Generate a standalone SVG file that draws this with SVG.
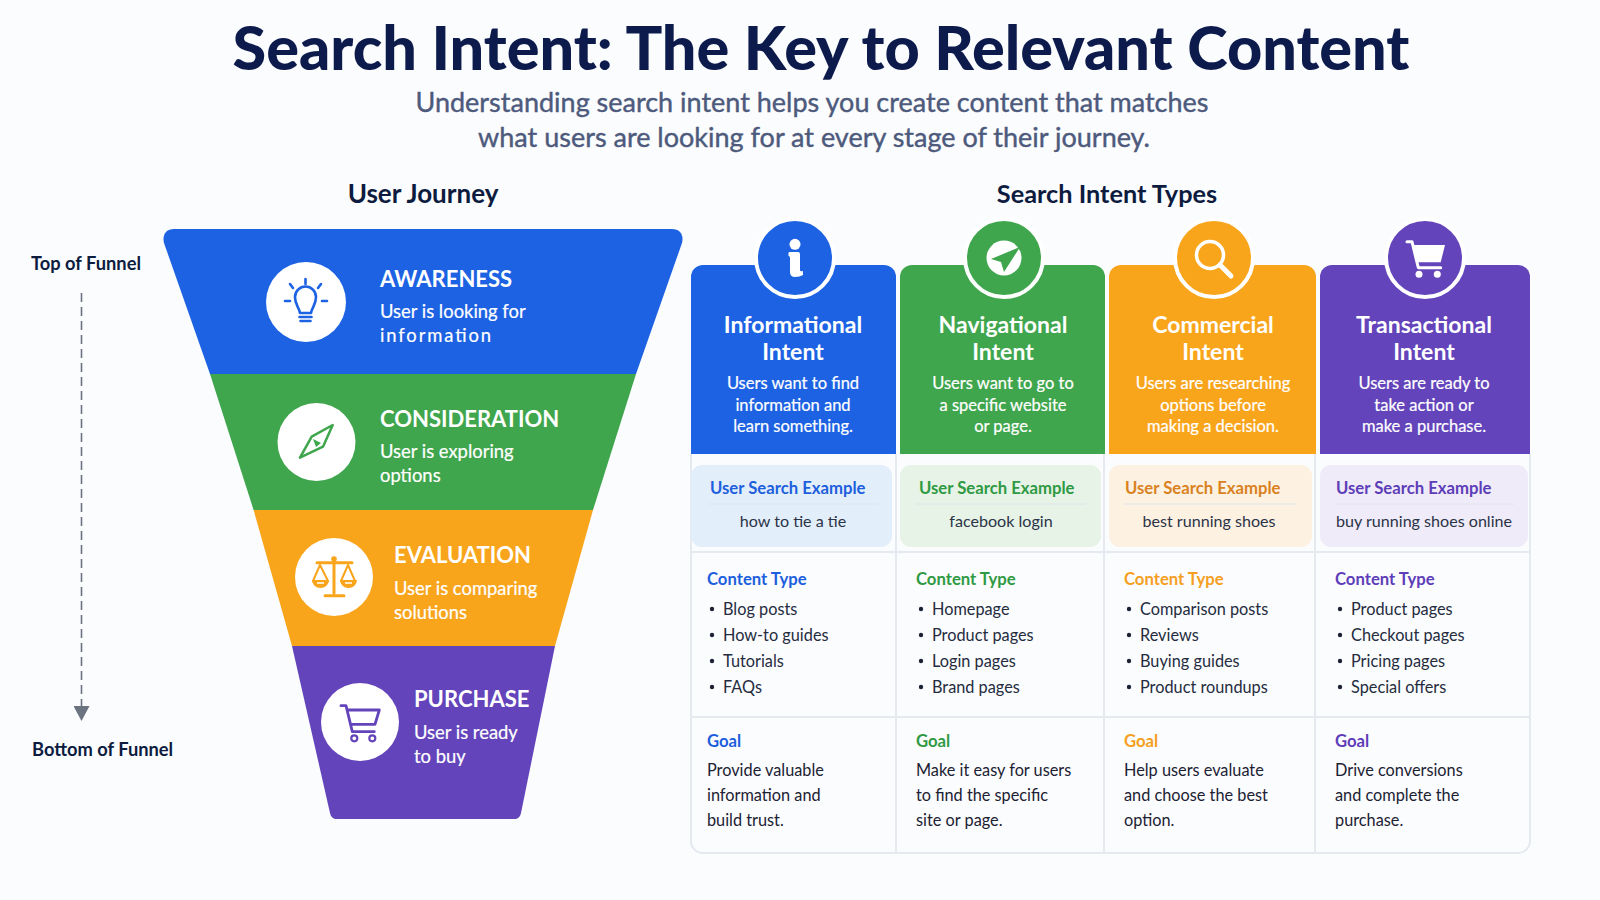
<svg xmlns="http://www.w3.org/2000/svg" width="1600" height="900" viewBox="0 0 1600 900">
<style>
text{font-family:"Lato","Noto Sans","Liberation Sans",sans-serif}
.title{font-size:61.200px;font-weight:900;fill:#0d1b4c;text-anchor:middle}
.sub{font-size:27px;font-weight:400;fill:#4d5a7c;stroke:#4d5a7c;stroke-width:.4;text-anchor:middle}
.sec{font-size:25.300px;font-weight:700;fill:#0d1b3e;text-anchor:middle}
.side{font-size:18.300px;font-weight:700;fill:#0d1b3e}
.fh{font-size:22px;font-weight:700;fill:#fff}
.fd{font-size:18.400px;font-weight:400;fill:#fff;stroke:#fff;stroke-width:.2}
.ch{font-size:23px;font-weight:700;fill:#fff;text-anchor:middle}
.cd{font-size:16.500px;font-weight:400;fill:#fff;stroke:#fff;stroke-width:.2;text-anchor:middle}
.lb{font-size:16.700px;font-weight:700}
.q{font-size:16.100px;fill:#2b3347;text-anchor:middle}
.li{font-size:16.300px;fill:#252c40}
.gt{font-size:16.300px;fill:#1c2233}
.grid{stroke:#e5e9f0;stroke-width:2;fill:none}
.hr{stroke:#dfe4ec;stroke-width:1}
.ring{stroke:#fff;stroke-width:4}
.blue{fill:#1c62e3}.green{fill:#3fa64d}.orange{fill:#f9a51c}.purple{fill:#6344bb}
.tblue{fill:#1d5fdc}.tgreen{fill:#2f9a43}.torange{fill:#f59f22}.tpurple{fill:#5e3db8}
.dot{fill:#1c2233}
</style>
<defs>
<marker id="arr" markerUnits="userSpaceOnUse" markerWidth="16" markerHeight="16" refX="0" refY="8" orient="auto"><path d="M0 0L15 8L0 16Z" fill="#6b7280"/></marker>
<g id="dots"><circle cx="0" cy="0" r="2.200" class="dot"/><circle cx="0" cy="26" r="2.200" class="dot"/><circle cx="0" cy="52" r="2.200" class="dot"/><circle cx="0" cy="78" r="2.200" class="dot"/></g>
</defs>
<rect width="1600" height="900" fill="#fbfcfe"/>
<text class="title" x="821" y="70">Search Intent: The Key to Relevant Content</text>
<text class="sub" x="812" y="112">Understanding search intent helps you create content that matches</text>
<text class="sub" x="814" y="147">what users are looking for at every stage of their journey.</text>
<text class="sec" x="423" y="203" style="font-size:26px">User Journey</text>
<text class="sec" x="1107" y="203">Search Intent Types</text>
<g id="connectors"><line x1="81.500" y1="293" x2="81.500" y2="706" stroke="#6b7280" stroke-width="1.600" stroke-dasharray="9 5" marker-end="url(#arr)"/></g>
<g id="side-labels"><text class="side" x="31" y="270">Top of Funnel</text><text class="side" x="32" y="756">Bottom of Funnel</text></g>

<g id="awareness">
<path class="blue" d="M174 229H672C680 229 684 235 682 243L636 374H210L164 243C162 235 166 229 174 229Z"/>
<circle cx="306" cy="302" r="40" fill="#fff"/>
<g fill="none" stroke="#1c62e3" stroke-width="2.600" stroke-linecap="round" stroke-linejoin="round"><path d="M300 313C299 307 295 305 295 297A10.500 10.500 0 0 1 316 297C316 305 312 307 311 313Z"/><path d="M299.500 317H311.500M300.500 321H310.500M305.500 279V284M290 284L293 288M321 284L318 288M285 301H290M322 301H327"/></g>
<text class="fh" x="380" y="287">AWARENESS</text>
<text class="fd" x="380" y="318">User is looking for</text>
<text class="fd" x="380" y="342" textLength="111">information</text>
</g>
<g id="consideration">
<path class="green" d="M210 374H636L593 510H253.600Z"/>
<circle cx="316.500" cy="442" r="39" fill="#fff"/>
<path d="M332.700 425L323 446.700L300 457.700L311.700 436.700Z" fill="#fff" stroke="#3fa64d" stroke-width="2.500" stroke-linejoin="round"/>
<path d="M313 439L321 443L316 447Z" fill="#3fa64d"/>
<text class="fh" x="380" y="427">CONSIDERATION</text>
<text class="fd" x="380" y="458">User is exploring</text>
<text class="fd" x="380" y="482">options</text>
</g>
<g id="evaluation">
<path class="orange" d="M253.600 510H593L555 646H292Z"/>
<circle cx="334" cy="577" r="39" fill="#fff"/>
<g fill="none" stroke="#f9a51c" stroke-width="2" stroke-linecap="round" stroke-linejoin="round"><path d="M320 565L313 581M320 565L328 581M348 565L341 581M348 565L355 581"/></g>
<path d="M334 558V593M317 562.700H352M325 595.700H344" fill="none" stroke="#f9a51c" stroke-width="3" stroke-linecap="round"/>
<path d="M312 580H329A8.500 8 0 0 1 312 580ZM340 580H357A8.500 8 0 0 1 340 580Z" fill="#f9a51c"/>
<path d="M317 583H324M345 583H352" stroke="#fff" stroke-width="1.500"/>
<circle cx="334" cy="559" r="2.800" fill="#f9a51c"/>
<text class="fh" x="394" y="563">EVALUATION</text>
<text class="fd" x="394" y="595">User is comparing</text>
<text class="fd" x="394" y="619">solutions</text>
</g>
<g id="purchase">
<path class="purple" d="M292 646H555L521 813C520 817 518 819 514 819H337C333 819 331 817 330 813Z"/>
<circle cx="360" cy="722" r="39" fill="#fff"/>
<g fill="none" stroke="#6344bb" stroke-width="2.800" stroke-linecap="round" stroke-linejoin="round"><path d="M341 705.700H346L352.300 731.700H374.300M348.300 710H379.300L375 724.300H351"/></g>
<circle cx="354.300" cy="738.300" r="3" fill="#fff" stroke="#6344bb" stroke-width="2.200"/><circle cx="372.300" cy="738.300" r="3" fill="#fff" stroke="#6344bb" stroke-width="2.200"/>
<text class="fh" x="414" y="707">PURCHASE</text>
<text class="fd" x="414" y="739">User is ready</text>
<text class="fd" x="414" y="763">to buy</text>
</g>

<g id="grid">
<path class="grid" d="M691 454V841A12 12 0 0 0 703 853H1518A12 12 0 0 0 1530 841V454"/>
<path class="grid" d="M896 454V853M1104 454V853M1315 454V853M691 552H1530M691 717H1530"/>
</g>

<g id="informational">
<path class="blue" d="M691 454V277A12 12 0 0 1 703 265H884A12 12 0 0 1 896 277V454Z"/>
<circle class="blue ring" cx="795" cy="258" r="39"/>
<circle cx="795" cy="244.300" r="5.500" fill="#fff"/>
<path d="M788.500 254Q788 252 790 252H798Q800 252 800 254V270Q800 272 803 271V275Q800 277 795 277Q790 277 790 272V258Q790 256 788.500 256Z" fill="#fff"/>
<text class="ch" x="793" y="333">Informational</text><text class="ch" x="793" y="360">Intent</text>
<text class="cd" x="793" y="389">Users want to find</text><text class="cd" x="793" y="411">information and</text><text class="cd" x="793" y="432">learn something.</text>
<rect x="691" y="465" width="201" height="82" rx="11" fill="#e3eefb"/>
<text class="lb tblue" x="710" y="494">User Search Example</text>
<line class="hr" x1="708" y1="504" x2="877" y2="504"/>
<text class="q" x="793" y="527">how to tie a tie</text>
<text class="lb tblue" x="707" y="585">Content Type</text>
<use href="#dots" x="712" y="609"/>
<text class="li" x="723" y="614.500">Blog posts</text><text class="li" x="723" y="640.500">How-to guides</text><text class="li" x="723" y="666.500">Tutorials</text><text class="li" x="723" y="692.500">FAQs</text>
<text class="lb tblue" x="707" y="747">Goal</text>
<text class="gt" x="707" y="776">Provide valuable</text><text class="gt" x="707" y="801">information and</text><text class="gt" x="707" y="826">build trust.</text>
</g>
<g id="navigational">
<path class="green" d="M900 454V277A12 12 0 0 1 912 265H1093A12 12 0 0 1 1105 277V454Z"/>
<circle class="green ring" cx="1004" cy="258" r="39"/>
<circle cx="1004" cy="258" r="17.500" fill="#fff"/>
<path d="M991 259L1020 247L1004 272L1001 262Z" class="green"/>
<text class="ch" x="1003" y="333">Navigational</text><text class="ch" x="1003" y="360">Intent</text>
<text class="cd" x="1003" y="389">Users want to go to</text><text class="cd" x="1003" y="411">a specific website</text><text class="cd" x="1003" y="432">or page.</text>
<rect x="900" y="465" width="201" height="82" rx="11" fill="#e6f3e6"/>
<text class="lb tgreen" x="919" y="494">User Search Example</text>
<line class="hr" x1="916" y1="504" x2="1086" y2="504"/>
<text class="q" x="1001" y="527">facebook login</text>
<text class="lb tgreen" x="916" y="585">Content Type</text>
<use href="#dots" x="921" y="609"/>
<text class="li" x="932" y="614.500">Homepage</text><text class="li" x="932" y="640.500">Product pages</text><text class="li" x="932" y="666.500">Login pages</text><text class="li" x="932" y="692.500">Brand pages</text>
<text class="lb tgreen" x="916" y="747">Goal</text>
<text class="gt" x="916" y="776">Make it easy for users</text><text class="gt" x="916" y="801">to find the specific</text><text class="gt" x="916" y="826">site or page.</text>
</g>
<g id="commercial">
<path class="orange" d="M1109 454V277A12 12 0 0 1 1121 265H1304A12 12 0 0 1 1316 277V454Z"/>
<circle class="orange ring" cx="1214" cy="258" r="39"/>
<circle cx="1210" cy="255" r="13.500" fill="none" stroke="#fff" stroke-width="3.500"/>
<line x1="1220" y1="265" x2="1231" y2="276" stroke="#fff" stroke-width="5" stroke-linecap="round"/>
<text class="ch" x="1213" y="333">Commercial</text><text class="ch" x="1213" y="360">Intent</text>
<text class="cd" x="1213" y="389">Users are researching</text><text class="cd" x="1213" y="411">options before</text><text class="cd" x="1213" y="432">making a decision.</text>
<rect x="1109" y="465" width="203" height="82" rx="11" fill="#fdf1e2"/>
<text class="lb" fill="#d9821f" x="1125" y="494">User Search Example</text>
<line class="hr" x1="1124" y1="504" x2="1297" y2="504"/>
<text class="q" x="1209" y="527">best running shoes</text>
<text class="lb torange" x="1124" y="585">Content Type</text>
<use href="#dots" x="1129" y="609"/>
<text class="li" x="1140" y="614.500">Comparison posts</text><text class="li" x="1140" y="640.500">Reviews</text><text class="li" x="1140" y="666.500">Buying guides</text><text class="li" x="1140" y="692.500">Product roundups</text>
<text class="lb torange" x="1124" y="747">Goal</text>
<text class="gt" x="1124" y="776">Help users evaluate</text><text class="gt" x="1124" y="801">and choose the best</text><text class="gt" x="1124" y="826">option.</text>
</g>
<g id="transactional">
<path class="purple" d="M1320 454V277A12 12 0 0 1 1332 265H1518A12 12 0 0 1 1530 277V454Z"/>
<circle class="purple ring" cx="1425" cy="258" r="39"/>
<path d="M1407 241.700H1412L1418.300 267.700H1440.700" fill="none" stroke="#fff" stroke-width="3" stroke-linecap="round" stroke-linejoin="round"/>
<path d="M1413.300 245H1445L1440.700 262.300H1417.300Z" fill="#fff"/>
<circle cx="1419" cy="274.300" r="3.500" fill="#fff"/><circle cx="1437.300" cy="274.300" r="3.500" fill="#fff"/>
<text class="ch" x="1424" y="333">Transactional</text><text class="ch" x="1424" y="360">Intent</text>
<text class="cd" x="1424" y="389">Users are ready to</text><text class="cd" x="1424" y="411">take action or</text><text class="cd" x="1424" y="432">make a purchase.</text>
<rect x="1320" y="465" width="208" height="82" rx="11" fill="#efebf9"/>
<text class="lb tpurple" x="1336" y="494">User Search Example</text>
<line class="hr" x1="1336" y1="504" x2="1514" y2="504"/>
<text class="q" x="1424" y="527">buy running shoes online</text>
<text class="lb tpurple" x="1335" y="585">Content Type</text>
<use href="#dots" x="1340" y="609"/>
<text class="li" x="1351" y="614.500">Product pages</text><text class="li" x="1351" y="640.500">Checkout pages</text><text class="li" x="1351" y="666.500">Pricing pages</text><text class="li" x="1351" y="692.500">Special offers</text>
<text class="lb tpurple" x="1335" y="747">Goal</text>
<text class="gt" x="1335" y="776">Drive conversions</text><text class="gt" x="1335" y="801">and complete the</text><text class="gt" x="1335" y="826">purchase.</text>
</g>
</svg>
